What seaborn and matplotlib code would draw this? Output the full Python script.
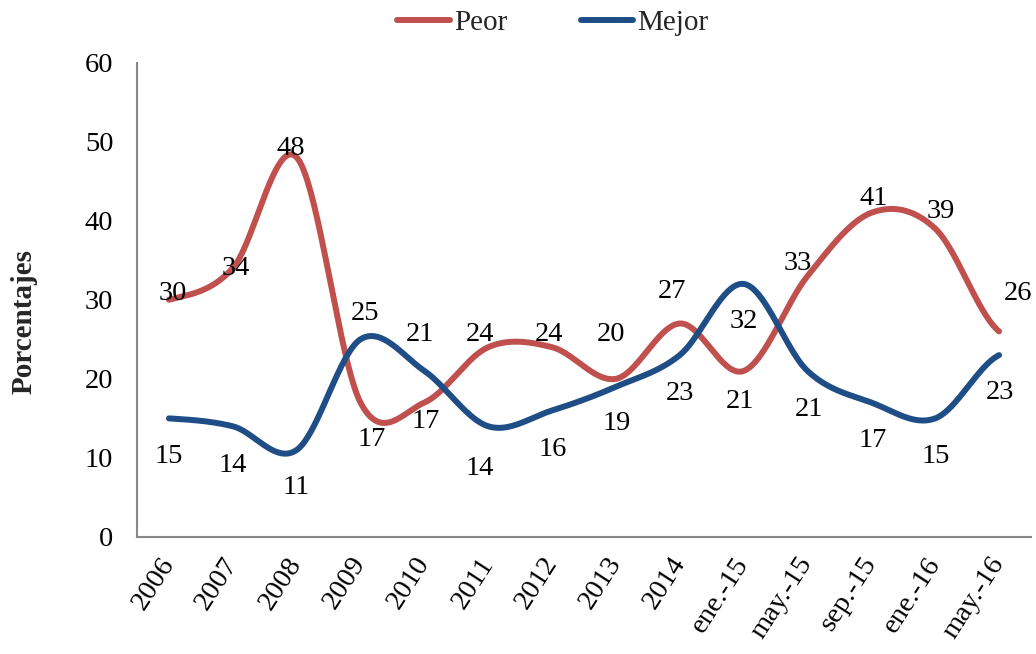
import numpy as np
import pandas as pd
import seaborn as sns
import matplotlib.pyplot as plt

categorias = ['2006', '2007', '2008', '2009', '2010', '2011', '2012', '2013',
              '2014', 'ene.-15', 'may.-15', 'sep.-15', 'ene.-16', 'may.-16']
peor = [30, 34, 48, 17, 17, 24, 24, 20, 27, 21, 33, 41, 39, 26]
mejor = [15, 14, 11, 25, 21, 14, 16, 19, 23, 32, 21, 17, 15, 23]

# where each data label sits relative to its point (pixels, image y goes down)
off_peor = [(4, -6), (3, 0), (-6, -9), (11, 37), (1, 19), (-8, -13), (-3, -13),
            (-5, -44), (-8, -32), (-4, 31), (-10, -13), (2, -14), (6, -17), (19, -38)]
off_mejor = [(0, 38), (0, 39), (0, 37), (4, -26), (-4, -36), (-8, 42), (1, 39),
             (1, 37), (0, 38), (0, 38), (1, 39), (1, 38), (1, 38), (1, 37)]

ROJO = '#C0504D'
AZUL = '#1F4E87'
TAM = 20.5


def suavizar(valores, n=40):
    # catmull-rom like the smoothed lines of the spreadsheet
    y = np.array(valores, dtype=float)
    p = np.concatenate([[y[0]], y, [y[-1]]])
    xs, ys = [], []
    for i in range(len(y) - 1):
        p0, p1, p2, p3 = p[i], p[i + 1], p[i + 2], p[i + 3]
        m1 = (p2 - p0) / 2
        m2 = (p3 - p1) / 2
        t = np.linspace(0, 1, n, endpoint=(i == len(y) - 2))
        h00 = 2 * t**3 - 3 * t**2 + 1
        h10 = t**3 - 2 * t**2 + t
        h01 = -2 * t**3 + 3 * t**2
        h11 = t**3 - t**2
        ys.append(h00 * p1 + h10 * m1 + h01 * p2 + h11 * m2)
        xs.append(i + t)
    return np.concatenate(xs), np.concatenate(ys)


def main():
    sns.set_style('white')
    plt.rcParams['font.family'] = ['Liberation Serif', 'DejaVu Serif']

    filas = []
    for nombre, serie in [('Peor', peor), ('Mejor', mejor)]:
        xs, ys = suavizar(serie)
        filas.append(pd.DataFrame({'x': xs, 'y': ys, 'serie': nombre}))
    df = pd.concat(filas, ignore_index=True)

    fig = plt.figure(figsize=(10.36, 6.54), dpi=100)
    ax = fig.add_axes([137 / 1036, 1 - 537 / 654, (1031 - 137) / 1036, (537 - 62.5) / 654])

    sns.lineplot(data=df, x='x', y='y', hue='serie', hue_order=['Peor', 'Mejor'],
                 palette={'Peor': ROJO, 'Mejor': AZUL}, sort=False, estimator=None,
                 linewidth=4.3, solid_capstyle='round', ax=ax)

    for serie, offs in [(peor, off_peor), (mejor, off_mejor)]:
        for i, v in enumerate(serie):
            dx, dy = offs[i]
            ax.annotate(str(v), (i, v), xytext=(dx, -dy), textcoords='offset pixels',
                        ha='center', va='center', fontsize=TAM, color='black')

    ax.set_xlim(-0.5, len(categorias) - 0.5)
    ax.set_ylim(0, 60)
    ax.set_yticks(range(0, 61, 10))
    ax.set_xticks(range(len(categorias)))
    ax.set_xticklabels(categorias, rotation=57, ha='right', va='center',
                       rotation_mode='anchor')
    ax.tick_params(axis='both', length=0, labelsize=TAM, colors='black')
    ax.tick_params(axis='y', pad=17)
    ax.tick_params(axis='x', pad=16)
    ax.set_xlabel('')
    ax.set_ylabel('')

    for lado in ['top', 'right']:
        ax.spines[lado].set_visible(False)
    for lado in ['left', 'bottom']:
        ax.spines[lado].set_color('#878787')
        ax.spines[lado].set_linewidth(1.5)

    fig.text(24 / 1036, 1 - 322 / 654, 'Porcentajes', rotation=90, ha='center',
             va='center', fontsize=21, fontweight='bold')

    handles, labels = ax.get_legend_handles_labels()
    for h in handles:
        h.set_linewidth(4.3)
        h.set_solid_capstyle('round')
    ax.legend(handles, labels, loc='center', ncol=2, frameon=False,
              bbox_to_anchor=(553 / 1036, 1 - 23 / 654), bbox_transform=fig.transFigure,
              fontsize=21, handlelength=1.8, handletextpad=0.15, columnspacing=2.5)

    fig.savefig('out.png', dpi=100)


if __name__ == '__main__':
    main()
